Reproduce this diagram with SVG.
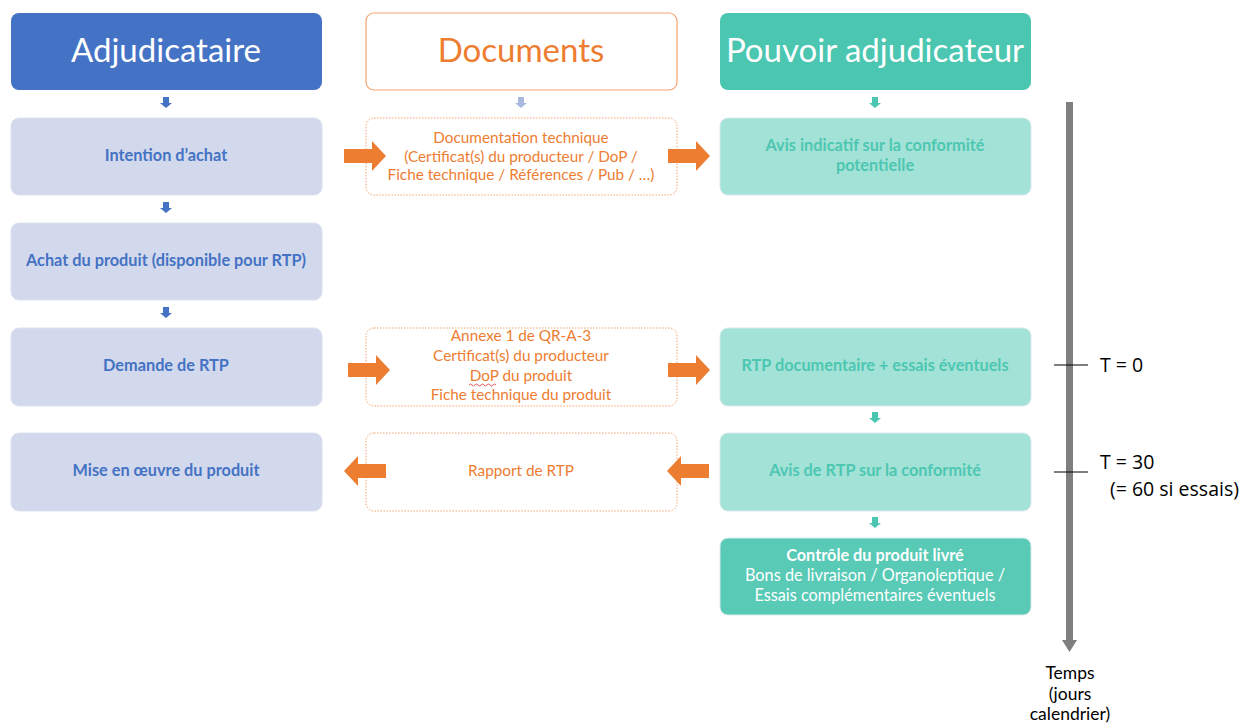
<svg xmlns="http://www.w3.org/2000/svg" width="1240" height="724" viewBox="0 0 1240 724">
<defs>
<style>
text{font-family:"Lato","Open Sans","Liberation Sans",sans-serif;text-anchor:middle}
.hd{font-size:33px;fill:#fff}
.b1{fill:#D3D9EC;stroke:#DDE2F0;stroke-width:1}
.t1{font-size:16.3px;font-weight:bold;fill:#4472C4}
.b3{fill:#A3E2D7;stroke:#D8E9EE;stroke-width:1}
.t3{font-size:16.3px;font-weight:bold;fill:#4DC7B2}
.b2{fill:#fff;stroke:#F4A46E;stroke-width:1;stroke-dasharray:1.5 1.5}
.t2{font-size:15.3px;fill:#ED7D31}
.oa{fill:#ED7D31}
.tm{font-size:19.5px;fill:#000;font-family:"Open Sans","Liberation Sans",sans-serif}
.tmc{font-size:17.5px;fill:#000;font-family:"Lato","Open Sans","Liberation Sans",sans-serif}
.tw{font-size:16.3px;fill:#fff}
</style>
</defs>
<rect width="1240" height="724" fill="#fff"/>

<g id="h-adjudicataire"><rect x="11" y="13" width="311" height="77" rx="8" fill="#4472C4"/><text class="hd" x="166" y="62">Adjudicataire</text></g>
<g id="h-documents"><rect x="366" y="13" width="311" height="77" rx="8" fill="#fff" stroke="#F4A46E" stroke-width="1.2"/><text class="hd" x="521" y="62" style="fill:#ED7D31">Documents</text></g>
<g id="h-pouvoir"><rect x="720" y="13" width="311" height="77" rx="8" fill="#4BC6B1"/><text class="hd" x="875" y="62">Pouvoir adjudicateur</text></g>

<g id="n-intention"><rect class="b1" x="11" y="118" width="311" height="77" rx="8"/><text class="t1" x="166" y="161">Intention d’achat</text></g>
<g id="n-achat"><rect class="b1" x="11" y="223" width="311" height="77" rx="8"/><text class="t1" x="166" y="266">Achat du produit (disponible pour RTP)</text></g>
<g id="n-demande"><rect class="b1" x="11" y="328" width="311" height="78" rx="8"/><text class="t1" x="166" y="371">Demande de RTP</text></g>
<g id="n-mise"><rect class="b1" x="11" y="433" width="311" height="78" rx="8"/><text class="t1" x="166" y="476">Mise en œuvre du produit</text></g>

<g id="n-doctech"><rect class="b2" x="366" y="118" width="311" height="77" rx="8"/>
<text class="t2" x="521" y="143">Documentation technique</text>
<text class="t2" x="521" y="162">(Certificat(s) du producteur / DoP /</text>
<text class="t2" x="521" y="180">Fiche technique / Références / Pub / …)</text></g>
<g id="n-annexe"><rect class="b2" x="366" y="328" width="311" height="78" rx="8"/>
<text class="t2" x="521" y="341">Annexe 1 de QR-A-3</text>
<text class="t2" x="521" y="361">Certificat(s) du producteur</text>
<text class="t2" x="521" y="381">DoP du produit</text>
<text class="t2" x="521" y="400">Fiche technique du produit</text>
<path d="M469 385 q1.5 -2 3 0 t3 0 t3 0 t3 0 t3 0 t3 0 t3 0 t3 0 t3 0" fill="none" stroke="#E03030" stroke-width="0.8"/></g>
<g id="n-rapport"><rect class="b2" x="366" y="433" width="311" height="78" rx="8"/><text class="t2" x="521" y="476">Rapport de RTP</text></g>

<g id="n-avis-indicatif"><rect class="b3" x="720" y="118" width="311" height="77" rx="8"/>
<text class="t3" x="875" y="151">Avis indicatif sur la conformité</text>
<text class="t3" x="875" y="171">potentielle</text></g>
<g id="n-rtp-doc"><rect class="b3" x="720" y="328" width="311" height="78" rx="8"/><text class="t3" x="875" y="371">RTP documentaire + essais éventuels</text></g>
<g id="n-avis-rtp"><rect class="b3" x="720" y="433" width="311" height="78" rx="8"/><text class="t3" x="875" y="476">Avis de RTP sur la conformité</text></g>
<g id="n-controle"><rect x="720" y="538" width="311" height="77" rx="8" fill="#58CAB6" stroke="#D8E9EE" stroke-width="1"/>
<text class="tw" x="875" y="561" style="font-weight:bold">Contrôle du produit livré</text>
<text class="tw" x="875" y="581">Bons de livraison / Organoleptique /</text>
<text class="tw" x="875" y="601">Essais complémentaires éventuels</text></g>

<g id="connectors">
<path d="M163 97 h6 v6 h3 l-6 5 l-6 -5 h3 z" fill="#4472C4"/>
<path d="M163 202 h6 v6 h3 l-6 5 l-6 -5 h3 z" fill="#4472C4"/>
<path d="M163 307 h6 v6 h3 l-6 5 l-6 -5 h3 z" fill="#4472C4"/>
<path d="M518 97 h6 v6 h3 l-6 5 l-6 -5 h3 z" fill="#A9B9E0"/>
<path d="M872 97 h6 v6 h3 l-6 5 l-6 -5 h3 z" fill="#4BC6B1"/>
<path d="M872 412 h6 v6 h3 l-6 5 l-6 -5 h3 z" fill="#4BC6B1"/>
<path d="M872 517 h6 v6 h3 l-6 5 l-6 -5 h3 z" fill="#4BC6B1"/>
<path class="oa" d="M344 149 h28 v-8 l14 15 l-14 15 v-8 h-28 z"/>
<path class="oa" d="M668 149 h28 v-8 l14 15 l-14 15 v-8 h-28 z"/>
<path class="oa" d="M348 363 h28 v-8 l14 15 l-14 15 v-8 h-28 z"/>
<path class="oa" d="M668 363 h28 v-8 l14 15 l-14 15 v-8 h-28 z"/>
<path class="oa" d="M386 464 h-28 v-8 l-14 15 l14 15 v-8 h28 z"/>
<path class="oa" d="M709 464 h-28 v-8 l-14 15 l14 15 v-8 h28 z"/>
</g>

<g id="timeline">
<rect x="1066" y="102" width="7" height="540" fill="#7F7F7F"/>
<path d="M1062 640 h15 l-7.5 12 z" fill="#7F7F7F"/>
<line x1="1054" y1="365" x2="1088" y2="365" stroke="#000" stroke-width="1"/>
<line x1="1054" y1="472" x2="1088" y2="472" stroke="#000" stroke-width="1"/>
<text class="tm" x="1100" y="372" style="text-anchor:start">T = 0</text>
<text class="tm" x="1100" y="469" style="text-anchor:start">T = 30</text>
<text class="tm" x="1110" y="496" style="text-anchor:start">(= 60 si essais)</text>
<text class="tmc" x="1070" y="679">Temps</text>
<text class="tmc" x="1070" y="700">(jours</text>
<text class="tmc" x="1070" y="720">calendrier)</text>
</g>
</svg>
